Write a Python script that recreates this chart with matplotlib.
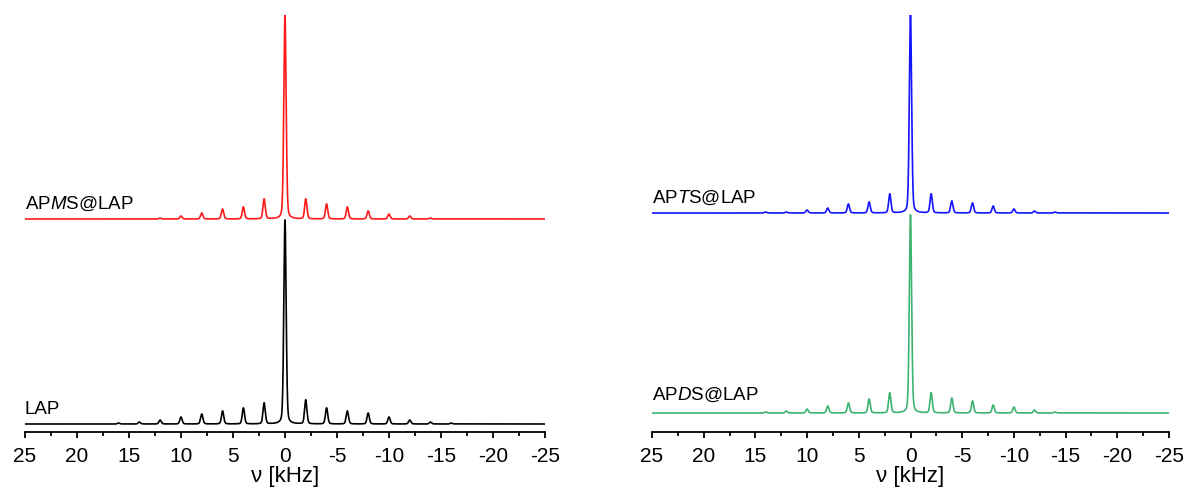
import numpy as np
import matplotlib
matplotlib.use("Agg")
import matplotlib.pyplot as plt
from matplotlib.ticker import MultipleLocator

plt.rcParams['font.family'] = ['Liberation Sans', 'DejaVu Sans']
plt.rcParams['mathtext.fontset'] = 'custom'
plt.rcParams['mathtext.rm'] = 'Liberation Sans'
plt.rcParams['mathtext.it'] = 'Liberation Sans:italic'

# sideband positions (kHz)
positions = [16, 14, 12, 10, 8, 6, 4, 2, 0, -2, -4, -6, -8, -10, -12, -14, -16]

# peak intensities (arbitrary units)
lap_int   = [1, 2, 4, 7, 10, 13, 16, 21, 204, 24, 16, 13, 11, 7, 4, 2, 1]
apms_int  = [0, 0, 1, 3, 6, 10, 12, 20, 204, 20, 15, 12, 8, 5, 3, 1, 0]
apds_int  = [0, 1, 2, 4, 7, 10, 14, 20, 198, 20, 15, 12, 8, 6, 3, 1, 0]
apts_int  = [0, 1, 1, 3, 5, 9, 11, 19, 198, 19, 12, 10, 7, 4, 2, 1, 0]

# vertical offsets of the stacked spectra
offsets_left = {'LAP': 8, 'APMS': 213}
offsets_right = {'APDS': 19, 'APTS': 219}

labels = {'LAP': 'LAP', 'APMS': r'AP$\mathit{M}$S@LAP',
          'APDS': r'AP$\mathit{D}$S@LAP', 'APTS': r'AP$\mathit{T}$S@LAP'}

nu = np.linspace(-25, 25, 8001)


def spectrum(pos, amps, fwhm=0.26, eta=0.25):
    y = np.zeros_like(nu)
    hw = fwhm / 2
    sig = fwhm / 2.3548
    for p, a in zip(pos, amps):
        lor = hw**2 / ((nu - p)**2 + hw**2)
        gau = np.exp(-0.5 * ((nu - p) / sig)**2)
        y += a * (eta * lor + (1 - eta) * gau)
    return y


fig = plt.figure(figsize=(11.87, 4.93), dpi=100)
W, H = 1187, 493


def make_ax(x0, x1, ybot, ytop):
    ax = fig.add_axes([x0 / W, 1 - ybot / H, (x1 - x0) / W, (ybot - ytop) / H])
    ax.set_xlim(25, -25)
    ax.set_ylim(0, ybot - ytop)
    for s in ['left', 'right', 'top']:
        ax.spines[s].set_visible(False)
    ax.spines['bottom'].set_linewidth(1.3)
    ax.set_yticks([])
    ax.xaxis.set_major_locator(MultipleLocator(5))
    ax.xaxis.set_minor_locator(MultipleLocator(2.5))
    ax.tick_params(axis='x', which='major', direction='out', length=4.5, width=1.3,
                   labelsize=15, pad=6)
    ax.tick_params(axis='x', which='minor', direction='out', length=2.8, width=1.3)
    ax.set_xticks([25, 20, 15, 10, 5, 0, -5, -10, -15, -20, -25])
    ax.set_xticklabels(['25', '20', '15', '10', '5', '0', '-5', '-10', '-15', '-20', '-25'])
    ax.set_xlabel('ν [kHz]', fontsize=16, labelpad=0)
    return ax


axL = make_ax(25, 545, 432, 15)
axL.plot(nu, spectrum(positions, lap_int) + offsets_left['LAP'], color='black', lw=1.2)
axL.plot(nu, spectrum(positions, apms_int) + offsets_left['APMS'], color='#ff1a1a', lw=1.2)
axL.text(25, offsets_left['LAP'] + 6, labels['LAP'], fontsize=13.5, ha='left', va='bottom')
axL.text(25, offsets_left['APMS'] + 6, labels['APMS'], fontsize=13.5, ha='left', va='bottom')

axR = make_ax(652, 1169, 432, 15)
axR.plot(nu, spectrum(positions, apds_int) + offsets_right['APDS'], color='#3cb371', lw=1.2)
axR.plot(nu, spectrum(positions, apts_int) + offsets_right['APTS'], color='#1414ff', lw=1.2)
axR.text(25, offsets_right['APDS'] + 9, labels['APDS'], fontsize=13.5, ha='left', va='bottom')
axR.text(25, offsets_right['APTS'] + 6, labels['APTS'], fontsize=13.5, ha='left', va='bottom')

fig.savefig('out.png', dpi=100)
